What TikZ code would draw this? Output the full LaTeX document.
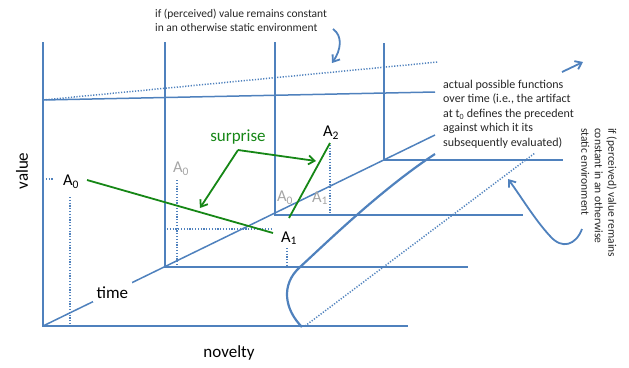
\documentclass[tikz,border=0pt]{standalone}
\usepackage{fontspec}
\setmainfont{Carlito}
\usetikzlibrary{arrows.meta}
\definecolor{axisblue}{RGB}{79,129,189}
\definecolor{surprisegreen}{RGB}{22,135,22}
\definecolor{ghostgray}{RGB}{165,165,165}
\tikzset{
  frameline/.style={draw=axisblue, line width=1.5pt},
  dotline/.style={draw=axisblue, line width=1.5pt, dash pattern=on 1.2pt off 1.6pt},
  curveline/.style={draw=axisblue, line width=2.2pt},
  greenline/.style={draw=surprisegreen, line width=1.8pt},
  greenarrow/.style={greenline, -{Straight Barb[length=6pt,width=9pt]}},
  bluearrow/.style={draw=axisblue, line width=1.8pt, -{Straight Barb[length=6pt,width=9pt]}},
  biglabel/.style={font=\fontsize{17}{20}\selectfont, inner sep=0pt},
  alabel/.style={font=\fontsize{16.5}{20}\selectfont, inner sep=0pt},
  ghost/.style={alabel, text=ghostgray},
  note/.style={font=\fontsize{11.5}{14}\selectfont, align=left, inner sep=0pt, text=black!85}
}

\begin{document}
\begin{tikzpicture}[x=1pt, y=-1pt]
  \useasboundingbox (0,0) rectangle (629,367);

  % frame corners along the time axis
  \coordinate (o1) at (43,326);
  \coordinate (o2) at (165,267);
  \coordinate (o3) at (275,215);
  \coordinate (o4) at (384,160);
  \coordinate (tend) at (435,135);

  % stacked value/novelty frames
  \draw[frameline] (43,42) -- (o1) -- (408,326);
  \draw[frameline] (165,42) -- (o2) -- (468,267);
  \draw[frameline] (275,42) -- (o3) -- (523,215);
  \draw[frameline] (384,43) -- (o4) -- (563,160);

  % time axis
  \draw[frameline] (o1) -- node[pos=0.177, fill=white, inner sep=4pt, font=\fontsize{17}{20}\selectfont] (timelbl) {time} (tend);

  % constant value lines
  \coordinate (v0) at (43,100);
  \draw[frameline] (v0) -- (435,92);
  \draw[dotline] (v0) -- (438,62);
  \draw[dotline] (305,326) -- (535,153);

  % actual function curve
  \draw[curveline] (302,327) .. controls (285,310) and (280,285) .. (300,267)
    .. controls (322,247) and (380,190) .. (435,154);

  % axis labels
  \node[biglabel, rotate=90] (value) at (22,171) {value};
  \node[biglabel] (novelty) at (229,353) {novelty};

  % artifacts
  \node[alabel] (a0) at (71,182) {A\textsubscript{0}};
  \node[ghost] (g0) at (181,169) {A\textsubscript{0}};
  \node[alabel] (a1) at (289,238) {A\textsubscript{1}};
  \node[ghost] (h0) at (285,198) {A\textsubscript{0}};
  \node[ghost] (h1) at (320,198) {A\textsubscript{1}};
  \node[alabel] (a2) at (331,133) {A\textsubscript{2}};

  % drop lines
  \draw[dotline] (43,179) -- (53,179);
  \draw[dotline] (70,197) -- (70,326);
  \draw[dotline] (177,180) -- (177,267);
  \draw[dotline] (167,229) -- (273,229);
  \draw[dotline] (287,248) -- (287,267);
  \draw[dotline] (330,145) -- (330,215);

  % trajectories
  \coordinate (p0) at (87,180);
  \coordinate (p1) at (273,233);
  \coordinate (q1) at (289,218);
  \coordinate (q2) at (330,143);
  \draw[greenline] (p0) -- (p1);
  \draw[greenline] (q1) -- (q2);

  \node[text=surprisegreen, font=\fontsize{17}{20}\selectfont, inner sep=0pt] (surp) at (238,137) {surprise};
  \coordinate (apex) at (238,150);
  \draw[greenarrow] (apex) -- (316,161);
  \draw[greenarrow] (apex) -- (200,208);

  % notes
  \node[note, anchor=west] (topnote) at (155,20) {if (perceived) value remains constant\\in an otherwise static environment};
  \node[note, anchor=west, font=\fontsize{12}{14.5}\selectfont] (midnote) at (443,114) {actual possible functions\\over time (i.e., the artifact\\at t\textsubscript{0} defines the precedent\\against which it its\\subsequently evaluated)};
  \node[note, anchor=west, rotate=-90, font=\fontsize{11.5}{13.5}\selectfont] (sidenote) at (599,128) {if (perceived) value remains\\constant in an otherwise\\static environment};

  % pointers
  \coordinate (topcurl) at (333,29);
  \coordinate (toptip) at (332,63);
  \draw[bluearrow] (topcurl) .. controls (343,36) and (341,50) .. (toptip);
  \coordinate (sidecurl) at (582,229);
  \coordinate (sidetip) at (508,179);
  \draw[bluearrow] (sidecurl) .. controls (576,245) and (562,250) .. (550,236)
    .. controls (535,220) and (520,195) .. (sidetip);
  \coordinate (dirtail) at (562,72);
  \coordinate (dirhead) at (583,62);
  \draw[bluearrow] (dirtail) -- (dirhead);
\end{tikzpicture}
\end{document}
